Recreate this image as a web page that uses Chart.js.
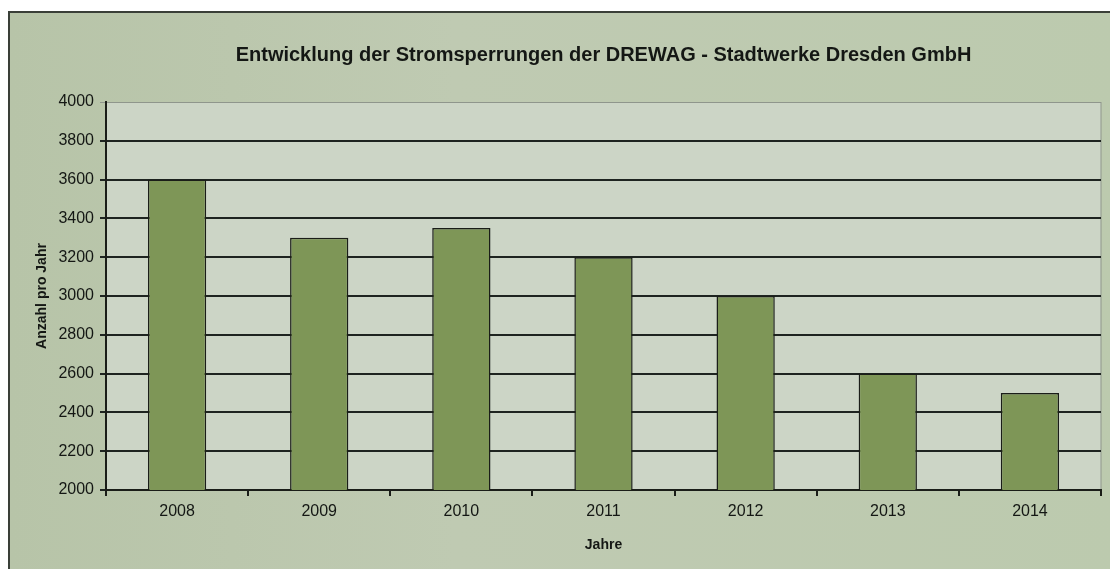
<!DOCTYPE html>
<html>
<head>
<meta charset="utf-8">
<script src="https://cdn.jsdelivr.net/npm/chart.js@4/dist/chart.umd.min.js"></script>
<style>
  html, body { margin: 0; padding: 0; background: #fff; overflow: hidden; }
  #frame {
    position: absolute; left: 8px; top: 11px; width: 1110px; height: 570px;
    border-top: 2px solid #3a3f38; border-left: 2px solid #3a3f38;
    background: linear-gradient(90deg, #b7c4a8 0%, #bfcab2 40%, #bccaae 100%);
  }
  #wrap { position: absolute; left: 0; top: 0; width: 1110px; height: 569px; }
</style>
</head>
<body>
<div id="frame"></div>
<div id="wrap"><canvas id="chart"></canvas></div>
<script>
const years = ["2008", "2009", "2010", "2011", "2012", "2013", "2014"];
const sperrungen = [3600, 3300, 3350, 3200, 3000, 2600, 2500];
const yMin = 2000;
const yMax = 4000;
const yStep = 200;

const textColor = "#141714";

// light plot background + grey right border
const plotBg = {
  id: "plotBg",
  beforeDraw(chart) {
    const { ctx, chartArea: a } = chart;
    ctx.save();
    ctx.fillStyle = "#ccd5c6";
    ctx.fillRect(a.left, a.top, a.right - a.left, a.bottom - a.top);
    ctx.strokeStyle = "#8f968c";
    ctx.lineWidth = 1;
    ctx.beginPath();
    ctx.moveTo(a.right, a.top);
    ctx.lineTo(a.right, a.bottom);
    ctx.stroke();
    ctx.restore();
  }
};

new Chart(document.getElementById("chart"), {
  type: "bar",
  data: {
    labels: years,
    datasets: [{
      data: sperrungen,
      backgroundColor: "#7e9657",
      borderColor: "#1a1d18",
      borderWidth: 1.5,
      borderSkipped: false,
      barPercentage: 0.41,
      categoryPercentage: 1
    }]
  },
  options: {
    responsive: true,
    maintainAspectRatio: false,
    animation: false,
    devicePixelRatio: 1,
    layout: { padding: { left: 30, right: 9, top: 12, bottom: 9 } },
    plugins: {
      legend: { display: false },
      tooltip: { enabled: false },
      title: {
        display: true,
        fullSize: false,
        text: "Entwicklung der Stromsperrungen der DREWAG - Stadtwerke Dresden GmbH",
        color: textColor,
        font: { family: "Liberation Sans, Arial, sans-serif", size: 20, weight: "bold" },
        padding: { top: 31, bottom: 35 }
      }
    },
    scales: {
      x: {
        afterFit(s) { s.height = 70; },
        grid: {
          offset: true,
          drawOnChartArea: false,
          drawTicks: true,
          tickLength: 6,
          color: "#1a1d18",
          lineWidth: 2
        },
        border: { display: true, color: "#1a1d18", width: 2 },
        ticks: {
          color: textColor,
          padding: 6,
          font: { family: "Liberation Sans, Arial, sans-serif", size: 16 }
        },
        title: {
          display: true,
          text: "Jahre",
          color: textColor,
          padding: { top: 0, bottom: 6 },
          font: { family: "Liberation Sans, Arial, sans-serif", size: 14, weight: "bold" }
        }
      },
      y: {
        min: yMin,
        max: yMax,
        afterFit(s) { s.width = 76; },
        grid: {
          drawTicks: true,
          tickLength: 6,
          color: ctx => ctx.tick && ctx.tick.value === yMax ? "#8f968c" : "#1e2420",
          lineWidth: ctx => ctx.tick && ctx.tick.value === yMax ? 1 : 2
        },
        border: { display: true, color: "#1a1d18", width: 2 },
        ticks: {
          stepSize: yStep,
          color: textColor,
          padding: 6,
          callback: v => String(v),
          font: { family: "Liberation Sans, Arial, sans-serif", size: 16 }
        },
        title: {
          display: true,
          text: "Anzahl pro Jahr",
          color: textColor,
          padding: { top: 4, bottom: 0 },
          font: { family: "Liberation Sans, Arial, sans-serif", size: 14, weight: "bold" }
        }
      }
    }
  },
  plugins: [plotBg]
});
</script>
</body>
</html>
